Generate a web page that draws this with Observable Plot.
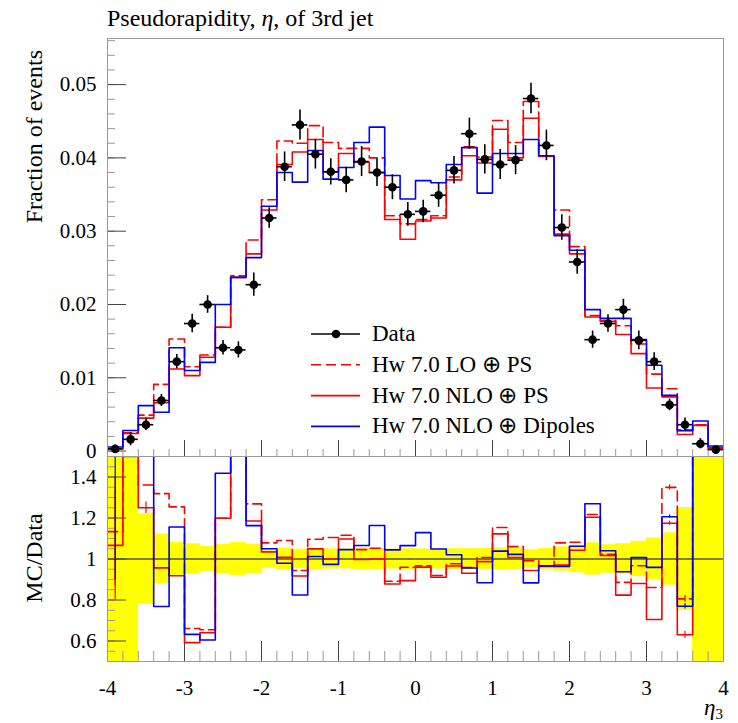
<!DOCTYPE html>
<html><head><meta charset="utf-8">
<script src="https://cdn.jsdelivr.net/npm/d3@7"></script>
<script src="https://cdn.jsdelivr.net/npm/@observablehq/plot@0.6"></script>
<style>
body{margin:0;background:#fff;}
#wrap{position:relative;width:738px;height:723px;overflow:hidden;font-family:"Liberation Serif",serif;}
#main,#ratio{position:absolute;left:0;}
#main{top:0}
#ratio{top:456px}
#overlay{position:absolute;left:0;top:0;pointer-events:none}
#wrap svg, #wrap svg text{font-family:"Liberation Serif",serif !important;}
</style></head><body>
<div id="wrap"><div id="main"></div><div id="ratio"></div><svg id="overlay" width="738" height="723"></svg></div>
<script>
// ---- bins (lower edges, width 0.2) ----
const binLo = [-4.0,-3.8,-3.6,-3.4,-3.2,-3.0,-2.8,-2.6,-2.4,-2.2,
               -2.0,-1.8,-1.6,-1.4,-1.2,-1.0,-0.8,-0.6,-0.4,-0.2,
                0.0, 0.2, 0.4, 0.6, 0.8, 1.0, 1.2, 1.4, 1.6, 1.8,
                2.0, 2.2, 2.4, 2.6, 2.8, 3.0, 3.2, 3.4, 3.6, 3.8];
const binWidth = 0.2;

// ---- Data (fraction of events) ----
const dataVals = [0.0003,0.0016,0.0036,0.0069,0.0122,0.0174,0.0200,0.0141,0.0138,0.0227,
                  0.0318,0.0388,0.0445,0.0405,0.0381,0.0370,0.0395,0.0380,0.0360,0.0323,
                  0.0327,0.0349,0.0383,0.0433,0.0398,0.0391,0.0397,0.0481,0.0417,0.0305,
                  0.0258,0.0152,0.0174,0.0193,0.0151,0.0122,0.0063,0.0036,0.0010,0.0002];
// relative data uncertainty (yellow band half-width)
const dataRelErr = [1.0,0.55,0.22,0.12,0.08,0.073,0.06,0.07,0.08,0.07,
                    0.044,0.052,0.046,0.05,0.047,0.047,0.052,0.05,0.047,0.05,
                    0.047,0.047,0.049,0.049,0.05,0.052,0.05,0.043,0.05,0.057,
                    0.065,0.077,0.068,0.073,0.085,0.10,0.127,0.25,0.7,1.0];

// ---- Hw 7.0 LO (+) PS ----
const hwLOPS = [0.00034,0.0025,0.0049,0.0091,0.0153,0.0115,0.0131,0.0169,0.0239,0.0288,
                0.0343,0.0423,0.0420,0.0444,0.0421,0.0413,0.0413,0.0400,0.0321,0.0310,
                0.0316,0.0321,0.0374,0.0415,0.0401,0.0451,0.0421,0.0477,0.0403,0.0329,
                0.0279,0.0185,0.0178,0.0171,0.0146,0.0105,0.0085,0.0029,0.0036,0.00045];
// ---- Hw 7.0 NLO (+) PS ----
const hwNLOPS = [0.00032,0.0024,0.0045,0.0066,0.0112,0.0103,0.0128,0.0169,0.0237,0.0269,
                 0.0329,0.0391,0.0408,0.0425,0.0381,0.0406,0.0394,0.0380,0.0316,0.0289,
                 0.0314,0.0318,0.0370,0.0403,0.0393,0.0439,0.0400,0.0454,0.0402,0.0296,
                 0.0269,0.0183,0.0177,0.0159,0.0133,0.0086,0.0074,0.00227,0.0035,0.0004];
// ---- Hw 7.0 NLO (+) Dipoles ----
const hwNLODip = [0.00055,0.0028,0.0062,0.0053,0.0141,0.0110,0.0121,0.0200,0.0237,0.0264,
                  0.0334,0.0380,0.0367,0.0410,0.0371,0.0387,0.0421,0.0442,0.0376,0.0344,
                  0.0369,0.0366,0.0391,0.0414,0.0352,0.0406,0.0406,0.0425,0.0403,0.0294,
                  0.0274,0.0193,0.0181,0.0181,0.0152,0.0117,0.0076,0.00277,0.0041,0.0007];
// MC statistical uncertainties (absolute)
const errLOPS   = [0.00008,0,0,0,0,0,0,0,0,0, 0,0,0,0,0,0,0,0,0,0, 0,0,0,0,0,0,0,0,0,0, 0,0,0,0,0,0,0.00008,0.00006,0,0];
const errNLOPS  = [0.00008,0,0.0001,0,0,0,0,0,0,0, 0,0,0,0,0,0,0,0,0,0, 0,0,0,0,0,0,0,0,0,0, 0,0,0,0,0,0,0.00006,0.00006,0,0];
const errNLODip = [0.00028,0,0,0,0,0,0,0,0,0, 0,0,0,0,0,0,0,0,0,0, 0,0,0,0,0,0,0,0,0,0, 0,0,0,0,0,0,0.00005,0.00005,0,0];

// ---- ticks ----
const xMajor = [-4,-3,-2,-1,0,1,2,3,4];
const mainYMajor = [0,0.01,0.02,0.03,0.04,0.05];
const mainYLabels = ["0","0.01","0.02","0.03","0.04","0.05"];
const ratioYMajor = [0.6,0.8,1.0,1.2,1.4];
const ratioYLabels = ["0.6","0.8","1","1.2","1.4"];
const xMinor = d3.range(-40, 41, 2).map(k => k/10);
const mainYMinor = d3.range(0, 57, 2).map(k => k/1000);
const ratioYMinor = d3.range(10, 31, 1).map(k => k/20);

const series = [
  {key:"lo",  vals:hwLOPS,   err:errLOPS,   stroke:"#ff0000", dash:"10,5"},
  {key:"nlo", vals:hwNLOPS,  err:errNLOPS,  stroke:"#ff0000", dash:null},
  {key:"dip", vals:hwNLODip, err:errNLODip, stroke:"#0000ff", dash:null}
];

const rows = binLo.map((lo,i) => ({
  lo, hi: lo + binWidth, mid: lo + binWidth/2,
  v: dataVals[i], e: dataVals[i]*dataRelErr[i], rel: dataRelErr[i]
}));
function steps(vals, f = (v,i)=>v) {
  const pts = [];
  binLo.forEach((lo,i) => { const y = f(vals[i], i); pts.push({x: lo, y}, {x: lo + binWidth, y}); });
  return pts;
}
function errRows(s, ratio) {
  return binLo.map((lo,i)=>({mid: lo+binWidth/2, v:s.vals[i], e:s.err[i], d:dataVals[i]}))
    .filter(r => r.e > 0)
    .map(r => ratio ? {mid:r.mid, y1:(r.v-r.e)/r.d, y2:(r.v+r.e)/r.d} : {mid:r.mid, y1:r.v-r.e, y2:r.v+r.e});
}

const FONT = 21;
const FF = "Liberation Serif, serif";
const majorCol = "#444", minorCol = "#999";

// ---------------- main panel ----------------
const mainMarks = [
  Plot.axisY(mainYMinor, {anchor:"left", tickSize:-8, tickFormat:()=> "", stroke:minorCol, label:null}),
  Plot.axisY(mainYMajor, {anchor:"left", tickSize:-19, tickFormat:()=> "", stroke:majorCol, label:null}),
  Plot.axisY(mainYMajor, {anchor:"left", tickSize:0, tickPadding:11, tickFormat:d=>mainYLabels[mainYMajor.indexOf(d)], fontSize:FONT, fontFamily:FF, label:null}),
  Plot.axisX(xMinor, {anchor:"bottom", tickSize:-7, tickFormat:()=> "", stroke:minorCol, label:null}),
  Plot.axisX(xMajor, {anchor:"bottom", tickSize:-16, tickFormat:()=> "", stroke:majorCol, label:null}),
];
series.forEach(s => mainMarks.push(
  Plot.line(steps(s.vals), {x:"x", y:"y", stroke:s.stroke, strokeWidth:1.6, strokeDasharray:s.dash, clip:true})
));
series.forEach(s => mainMarks.push(
  Plot.ruleX(errRows(s,false), {x:"mid", y1:"y1", y2:"y2", stroke:s.stroke, strokeWidth:1.2, clip:true})
));
mainMarks.push(
  Plot.ruleX(rows, {x:"mid", y1:d=>d.v-d.e, y2:d=>d.v+d.e, stroke:"black", strokeWidth:1.6, clip:true}),
  Plot.ruleY(rows, {y:"v", x1:"lo", x2:"hi", stroke:"black", strokeWidth:1.6, clip:true}),
  Plot.dot(rows, {x:"mid", y:"v", r:4.3, fill:"black", stroke:"none", clip:true}),
  Plot.frame({stroke:"#999", strokeWidth:1})
);
const main = Plot.plot({
  width:738, height:470,
  marginTop:38, marginBottom:14, marginLeft:107, marginRight:15,
  x:{domain:[-4,4]},
  y:{domain:[-0.00074,0.05629]},
  style:{fontFamily:FF, fontSize:FONT+"px", color:"black", background:"transparent"},
  marks: mainMarks
});
document.getElementById("main").appendChild(main);

// ---------------- ratio panel ----------------
const ratioMarks = [
  Plot.rect(rows, {x1:"lo", x2:"hi", y1:d=>1-d.rel, y2:d=>1+d.rel, fill:"#ffff00", stroke:"#ffff00", strokeWidth:0.5, clip:true}),
  Plot.ruleY([1], {stroke:"black", strokeWidth:1}),
  Plot.axisY(ratioYMinor, {anchor:"left", tickSize:-8, tickFormat:()=> "", stroke:minorCol, label:null}),
  Plot.axisY(ratioYMajor, {anchor:"left", tickSize:-19, tickFormat:()=> "", stroke:majorCol, label:null}),
  Plot.axisY(ratioYMajor, {anchor:"left", tickSize:0, tickPadding:11, tickFormat:d=>ratioYLabels[ratioYMajor.indexOf(d)], fontSize:FONT, fontFamily:FF, label:null}),
  Plot.axisX(xMinor, {anchor:"bottom", tickSize:-10, tickFormat:()=> "", stroke:minorCol, label:null}),
  Plot.axisX(xMajor, {anchor:"bottom", tickSize:-20, tickFormat:()=> "", stroke:majorCol, label:null}),
  Plot.axisX(xMajor, {anchor:"bottom", tickSize:0, tickPadding:19, tickFormat:d=>String(d), fontSize:FONT, fontFamily:FF, label:null}),
];
series.forEach(s => ratioMarks.push(
  Plot.line(steps(s.vals, (v,i)=>v/dataVals[i]), {x:"x", y:"y", stroke:s.stroke, strokeWidth:1.6, strokeDasharray:s.dash, clip:true})
));
series.forEach(s => ratioMarks.push(
  Plot.ruleX(errRows(s,true), {x:"mid", y1:"y1", y2:"y2", stroke:s.stroke, strokeWidth:1.2, clip:true})
));
ratioMarks.push(Plot.frame({stroke:"#999", strokeWidth:1}));
const ratio = Plot.plot({
  width:738, height:267,
  marginTop:0, marginBottom:62, marginLeft:107, marginRight:15,
  x:{domain:[-4,4]},
  y:{domain:[0.5,1.5]},
  style:{fontFamily:FF, fontSize:FONT+"px", color:"black", background:"transparent"},
  marks: ratioMarks
});
document.getElementById("ratio").appendChild(ratio);

// ---------------- text overlay: title, axis labels, legend ----------------
const ov = d3.select("#overlay");
ov.append("text").attr("x",107).attr("y",26).attr("font-size",24).attr("font-family",FF)
  .html('Pseudorapidity, <tspan font-style="italic">η</tspan>, of 3rd jet');
ov.append("text").attr("transform","translate(42,50) rotate(-90)").attr("text-anchor","end")
  .attr("font-size",24).attr("font-family",FF).text("Fraction of events");
ov.append("text").attr("transform","translate(42,558) rotate(-90)").attr("text-anchor","middle")
  .attr("font-size",24).attr("font-family",FF).text("MC/Data");
ov.append("text").attr("x",723).attr("y",715).attr("text-anchor","end").attr("font-size",23).attr("font-family",FF)
  .html('<tspan font-style="italic">η</tspan><tspan font-size="15" dy="4">3</tspan>');

const legend = [
  {label:"Data", type:"data"},
  {label:"Hw 7.0 LO ⊕ PS", stroke:"#ff0000", dash:"10,5"},
  {label:"Hw 7.0 NLO ⊕ PS", stroke:"#ff0000", dash:null},
  {label:"Hw 7.0 NLO ⊕ Dipoles", stroke:"#0000ff", dash:null}
];
legend.forEach((l,i) => {
  const y = 334 + i*30.8;
  const g = ov.append("g");
  g.append("line").attr("x1",311).attr("x2",360).attr("y1",y).attr("y2",y)
    .attr("stroke", l.type==="data" ? "black" : l.stroke).attr("stroke-width",1.6)
    .attr("stroke-dasharray", l.dash);
  if (l.type==="data") g.append("circle").attr("cx",336).attr("cy",y).attr("r",4.3).attr("fill","black");
  g.append("text").attr("x",372).attr("y",y+7).attr("font-size",23).attr("font-family",FF).text(l.label);
});
</script></body></html>
